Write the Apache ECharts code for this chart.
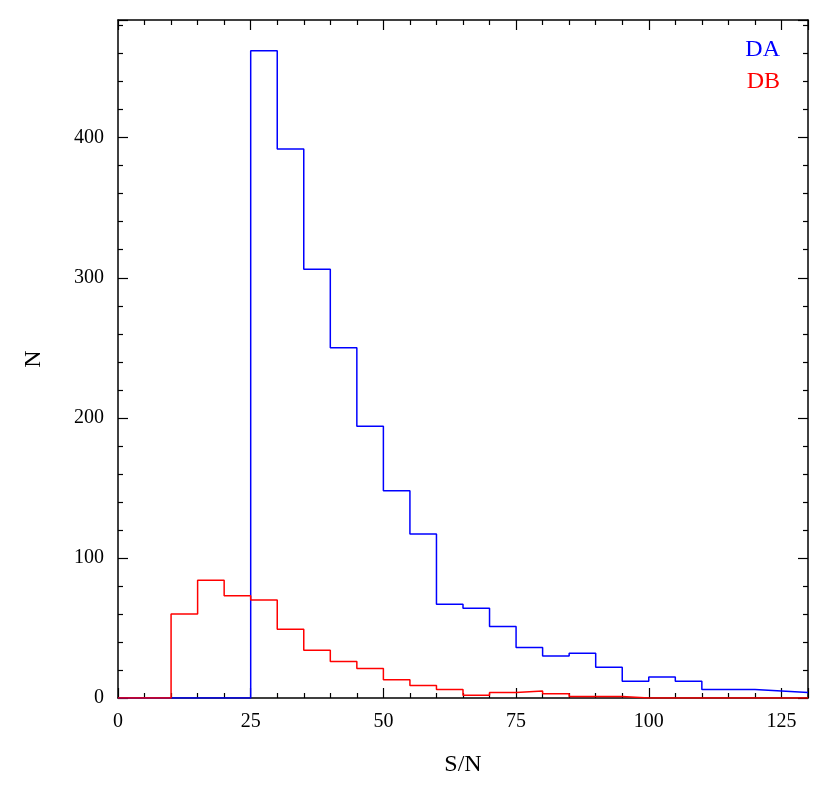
<!DOCTYPE html><html><head><meta charset="utf-8"><script src="https://cdn.jsdelivr.net/npm/echarts@6/dist/echarts.min.js"></script></head><body style="margin:0"><div id="c" style="width:830px;height:811px"></div><script>
const binWidth = 5;
const daStart = 25;
const daCounts = [462,392,306,250,194,148,117,67,64,51,36,30,32,22,12,15,12,6,6,5,4];
const dbStart = 10;
const dbCounts = [60,84,73,70,49,34,26,21,13,9,6,2,4,5,3,1,1,0,0,0,0,0,0,0];
function steps(start, counts){
  const pts=[[0,0]];
  counts.forEach((v,i)=>pts.push([start+i*binWidth,v]));
  pts.push([start+counts.length*binWidth,counts[counts.length-1]]);
  return pts;
}
const F='Liberation Serif';
function tk(){return {show:true,inside:true,length:10,lineStyle:{color:'#000',width:1.2}};}
function mt(){return {show:true,splitNumber:5,length:5,lineStyle:{color:'#000',width:1.2}};}
function xa(show){return {type:'value',min:0,max:130,interval:25,position:show?'bottom':'top',axisLine:{show:true,onZero:false,lineStyle:{color:'#000',width:1.5}},axisTick:tk(),minorTick:mt(),splitLine:{show:false},
 axisLabel:{show:show,inside:false,color:'#000',fontFamily:F,fontSize:20,margin:14,formatter:v=>v%25===0?v:''},
 name:show?'S/N':'',nameLocation:'middle',nameGap:55,nameTextStyle:{color:'#000',fontFamily:F,fontSize:24}};}
function ya(show){return {type:'value',min:0,max:484,interval:100,position:show?'left':'right',axisLine:{show:true,onZero:false,lineStyle:{color:'#000',width:1.5}},axisTick:tk(),minorTick:mt(),splitLine:{show:false},
 axisLabel:{show:show,inside:false,color:'#000',fontFamily:F,fontSize:20,margin:14,formatter:v=>v%100===0?v:''},
 name:show?'N':'',nameLocation:'middle',nameGap:72,nameTextStyle:{color:'#000',fontFamily:F,fontSize:24}};}
const ch=echarts.init(document.getElementById('c'));
ch.setOption({animation:false,
grid:{left:118,right:22,top:20,bottom:113},
xAxis:[xa(true),xa(false)],yAxis:[ya(true),ya(false)],
series:[
{type:'line',step:'end',data:steps(daStart,daCounts),showSymbol:false,lineStyle:{color:'#0000ff',width:1.5},clip:true},
{type:'line',step:'end',data:steps(dbStart,dbCounts),showSymbol:false,lineStyle:{color:'#ff0000',width:1.5},clip:true}
],
graphic:[
{type:'text',right:50,top:38,style:{text:'DA',fill:'#0000ff',font:'24px "Liberation Serif"'}},
{type:'text',right:50,top:70,style:{text:'DB',fill:'#ff0000',font:'24px "Liberation Serif"'}}
]});
</script></body></html>
